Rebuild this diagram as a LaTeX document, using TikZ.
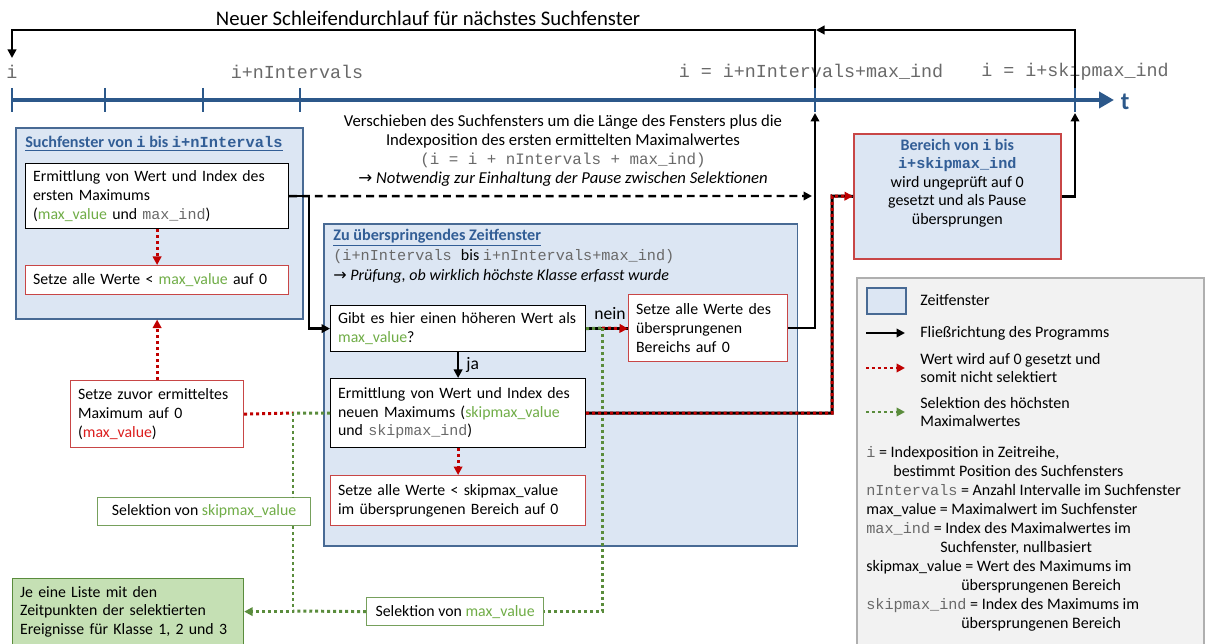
\documentclass[tikz,border=0pt]{standalone}
\usepackage{fontspec}
\setmainfont{Carlito}
\setmonofont[Scale=0.95]{Liberation Mono}
\newfontfamily\symfont{DejaVu Sans}
\usetikzlibrary{arrows.meta}
\definecolor{axisblue}{RGB}{44,88,138}
\definecolor{winfill}{RGB}{220,230,243}
\definecolor{winborder}{RGB}{72,106,148}
\definecolor{tblue}{RGB}{50,94,150}
\definecolor{redline}{RGB}{192,0,0}
\definecolor{redborder}{RGB}{200,70,70}
\definecolor{gborder}{RGB}{118,160,92}
\definecolor{gline}{RGB}{90,140,60}
\definecolor{gtext}{RGB}{112,173,71}
\definecolor{rtext}{RGB}{220,30,30}
\definecolor{listfill}{RGB}{197,224,180}
\definecolor{listborder}{RGB}{90,140,60}
\definecolor{monogray}{RGB}{105,105,105}
\definecolor{legfill}{RGB}{242,242,242}
\definecolor{legborder}{RGB}{175,175,175}
\newcommand\mtt[1]{{\color{monogray}\texttt{#1}}}
\newcommand\grn[1]{{\color{gtext}#1}}
\newcommand\rarr{{\symfont\char"2192}}
\begin{document}
\begin{tikzpicture}[x=0.02cm,y=-0.02cm,
  every node/.style={font=\fontsize{9.1}{10.6}\selectfont, inner sep=0pt},
  win/.style={draw=winborder, fill=winfill, line width=0.9pt, anchor=north west},
  pbox/.style={draw=black, fill=white, line width=0.7pt, anchor=north west, inner xsep=0.15cm, align=left, font=\fontsize{9}{10.6}\selectfont},
  rbox/.style={pbox, draw=redborder},
  gbox/.style={pbox, draw=gborder, align=center},
  tip/.style={-{Triangle[length=0.17cm,width=0.17cm]}},
  flow/.style={line width=1.4pt, tip},
  reddot/.style={draw=redline, line width=1.7pt, dash pattern=on 1.7pt off 1.7pt},
  greendot/.style={draw=gline, line width=1.7pt, dash pattern=on 1.7pt off 1.7pt},
  redtip/.style={-{Triangle[length=0.17cm,width=0.17cm,fill=redline,color=redline]}},
  greentip/.style={-{Triangle[length=0.17cm,width=0.17cm,fill=gline,color=gline]}},
  toplabel/.style={font=\fontsize{11}{12.5}\selectfont},
  legtext/.style={font=\fontsize{9.1}{10.8}\selectfont, anchor=west, align=left},
]
\useasboundingbox (0,0) rectangle (1206,644);

% ---------- title and time axis ----------
\node[font=\fontsize{11.8}{13}\selectfont] (ttl) at (428,18) {Neuer Schleifendurchlauf für nächstes Suchfenster};
\coordinate (ax0) at (12,100);
\coordinate (axend) at (1114,100);
\draw[axisblue, line width=2.4pt, -{Triangle[length=0.3cm,width=0.32cm]}] (ax0) -- (axend);
\foreach \x in {12,105,203,300,815,1075}
  \draw[axisblue, line width=1.6pt] (\x,88) -- (\x,112);
\node[text=axisblue, font=\fontsize{14}{16}\selectfont\bfseries] (tlab) at (1125,102) {t};
\node[toplabel] (li) at (12,72) {\mtt{i}};
\node[toplabel] (lni) at (297,72) {\mtt{i+nIntervals}};
\node[toplabel] (lmx) at (811,72) {\mtt{i = i+nIntervals+max\_ind}};
\node[toplabel] (lsk) at (1075,72) {\mtt{i = i+skipmax\_ind}};

\coordinate (tk5top) at (815,88);
\coordinate (tk6top) at (1075,88);
\coordinate (tk5bot) at (815,113);
\coordinate (tk6bot) at (1075,113);
\coordinate (iarr) at (12,58);
\coordinate (loopmeet) at (816,30);
\draw[flow] (tk5top) -- ++(0,-58) -| (iarr);
\draw[flow] (tk6top) -- ++(0,-58) -- (loopmeet);

% ---------- windows ----------
\node[win, minimum width=5.74cm, minimum height=3.82cm] (win1) at (15,127) {};
\node[anchor=west, text=tblue, font=\fontsize{9.2}{10.6}\selectfont\bfseries] (win1t) at (25,144)
  {\underline{Suchfenster von \texttt{i} bis \texttt{i+nIntervals}}};
\node[win, minimum width=9.48cm, minimum height=6.44cm] (win2) at (323,223) {};
\node[anchor=west, text=tblue, font=\fontsize{9.2}{10.6}\selectfont\bfseries] (win2t) at (333,238)
  {\underline{Zu überspringendes Zeitfenster}};
\node[anchor=west] (win2a) at (333,257) {\mtt{(i+nIntervals }bis \mtt{i+nIntervals+max\_ind)}};
\node[anchor=west] (win2b) at (333,276) {\rarr\ \textit{Prüfung, ob wirklich höchste Klasse erfasst wurde}};

% ---------- boxes in first window ----------
\node[pbox, minimum width=5.26cm, minimum height=1.3cm, text width=4.96cm] (b1) at (25,163)
  {Ermittlung von Wert und Index des\\ersten Maximums\\(\grn{max\_value} und \mtt{max\_ind})};
\node[rbox, minimum width=5.26cm, minimum height=0.58cm, text width=4.96cm] (b2) at (25,265)
  {Setze alle Werte < \grn{max\_value} auf 0};

% ---------- boxes in second window ----------
\node[pbox, minimum width=5.1cm, minimum height=0.92cm, text width=4.8cm] (q) at (330,305)
  {Gibt es hier einen höheren Wert als\\\grn{max\_value}?};
\node[rbox, minimum width=3.18cm, minimum height=1.34cm, text width=2.88cm] (skip) at (628,294)
  {Setze alle Werte des\\übersprungenen\\Bereichs auf 0};
\node[pbox, minimum width=5.1cm, minimum height=1.38cm, text width=4.8cm] (nb) at (330,378)
  {Ermittlung von Wert und Index des\\neuen Maximums (\grn{skipmax\_value}\\und \mtt{skipmax\_ind})};
\node[rbox, minimum width=5.1cm, minimum height=1.0cm, text width=4.8cm] (r3) at (330,475)
  {Setze alle Werte < skipmax\_value\\im übersprungenen Bereich auf 0};

% ---------- right box ----------
\node[win, draw=redborder, minimum width=4.14cm, minimum height=2.5cm, align=center] (ber) at (853,133)
  {{\color{tblue}\bfseries Bereich von \texttt{i} bis}\\{\color{tblue}\bfseries\texttt{i+skipmax\_ind}}\\wird ungeprüft auf 0\\gesetzt und als Pause\\übersprungen\\[6pt]};

% ---------- lower left boxes ----------
\node[rbox, minimum width=3.46cm, minimum height=1.34cm, text width=3.16cm] (szv) at (70,380)
  {Setze zuvor ermitteltes\\Maximum auf 0\\({\color{rtext}max\_value})};
\node[gbox, minimum width=4.26cm, minimum height=0.56cm] (selskip) at (97,497)
  {Selektion von \grn{skipmax\_value}};
\node[gbox, minimum width=3.54cm, minimum height=0.56cm] (selmax) at (366,597)
  {Selektion von \grn{max\_value}};
\node[pbox, draw=listborder, fill=listfill, minimum width=4.62cm, minimum height=1.32cm, text width=4.32cm] (liste) at (12,578)
  {Je eine Liste mit den\\Zeitpunkten der selektierten\\Ereignisse für Klasse 1, 2 und 3};

% ---------- explanation text ----------
\node[align=center, font=\fontsize{9.5}{10.8}\selectfont] (expl) at (563,151)
  {Verschieben des Suchfensters um die Länge des Fensters plus die\\Indexposition des ersten ermittelten Maximalwertes\\\mtt{(i = i + nIntervals + max\_ind)}\\\rarr\ \textit{Notwendig zur Einhaltung der Pause zwischen Selektionen}};

% ---------- connectors ----------
\coordinate (dashend) at (812,196);
\draw[flow] (b1.east) -- ++(20,0) |- (q.west);
\draw[line width=1.4pt, dash pattern=on 4.5pt off 2.8pt, tip] (b1.east) -- (dashend);

\draw[reddot, redtip] (b1.south) -- (b2.north);
\draw[reddot, redtip] (szv.north) -- (szv.north |- win1.south);
\draw[reddot, redtip] (nb.south) -- (r3.north);

\draw[flow] (q.south) -- (nb.north) node[pos=0.5, right=4pt, font=\fontsize{10}{11}\selectfont] (ja) {ja};
\node[font=\fontsize{10}{11}\selectfont] (nein) at (610,314) {nein};

% q -> skip (black with dots)
\coordinate (gq) at (602,328);
\draw[line width=1.7pt] (q.east) -- (q.east -| skip.west);
\draw[greendot] (q.east) -- (gq);
\draw[reddot, redtip] (gq) -- (q.east -| skip.west);
\draw[greendot] (gq) |- (selmax.east);

% skip -> axis
\draw[flow] (skip.east) -| (tk5bot);
\draw[flow] (ber.east) -| (tk6bot);

% new max -> Bereich
\coordinate (rjtop) at (832,196);
\draw[line width=1.7pt] (nb.east) -| (rjtop) -- (ber.west);
\draw[reddot, redtip] (nb.east) -| (rjtop) -- (ber.west);

% left junction
\coordinate (gj) at (293,413);
\draw[reddot] (szv.east) -- (gj);
\draw[greendot] (nb.west) -- (gj);
\draw[greendot] (gj) -- (gj |- selskip.north);
\coordinate (gb) at (293,611);
\draw[greendot, greentip] (gj |- selskip.south) |- (liste.east);
\draw[greendot] (selmax.west) -- (gb);

% ---------- legend ----------
\node[draw=legborder, fill=legfill, line width=1.2pt, anchor=north west, minimum width=6.94cm, minimum height=7.5cm] (leg) at (856,277) {};
\node[win, minimum width=0.78cm, minimum height=0.52cm] (legsq) at (866,287) {};
\node[legtext] (lt1) at (920,300) {Zeitfenster};
\coordinate (la1) at (866,333); \coordinate (lb1) at (905,333);
\coordinate (la2) at (866,368); \coordinate (lb2) at (905,368);
\coordinate (la3) at (866,412); \coordinate (lb3) at (905,412);
\draw[flow] (la1) -- (lb1);
\draw[reddot, redtip] (la2) -- (lb2);
\draw[greendot, greentip] (la3) -- (lb3);
\node[legtext] (lt2) at (920,333) {Fließrichtung des Programms};
\node[legtext] (lt3) at (920,368) {Wert wird auf 0 gesetzt und\\somit nicht selektiert};
\node[legtext] (lt4) at (920,412) {Selektion des höchsten\\Maximalwertes};
\node[legtext, anchor=north west, font=\fontsize{9.1}{10.8}\selectfont] (defs) at (866,446)
  {\mtt{i} = Indexposition in Zeitreihe,\\
   \hspace*{0.54cm}bestimmt Position des Suchfensters\\
   \mtt{nIntervals} = Anzahl Intervalle im Suchfenster\\
   max\_value = Maximalwert im Suchfenster\\
   \mtt{max\_ind} = Index des Maximalwertes im\\
   \hspace*{1.48cm}Suchfenster, nullbasiert\\
   skipmax\_value = Wert des Maximums im\\
   \hspace*{1.9cm}übersprungenen Bereich\\
   \mtt{skipmax\_ind} = Index des Maximums im\\
   \hspace*{1.9cm}übersprungenen Bereich};
\end{tikzpicture}
\end{document}
